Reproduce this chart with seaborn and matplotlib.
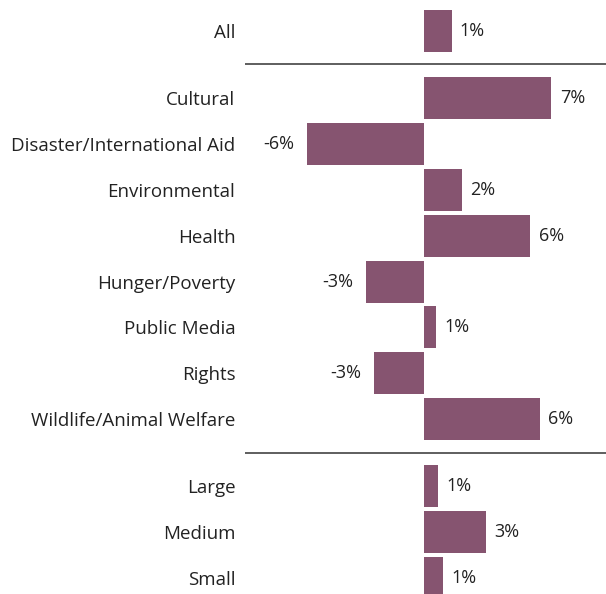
import numpy as np
import pandas as pd
import matplotlib
matplotlib.use("Agg")
import matplotlib.pyplot as plt
import seaborn as sns

# Datos
categorias = ["All",
              "Cultural", "Disaster/International Aid", "Environmental", "Health",
              "Hunger/Poverty", "Public Media", "Rights", "Wildlife/Animal Welfare",
              "Large", "Medium", "Small"]
grupos = [0, 1, 1, 1, 1, 1, 1, 1, 1, 2, 2, 2]
cambio = [1.45, 6.7, -6.15, 2.0, 5.6, -3.05, 0.63, -2.65, 6.1, 0.74, 3.26, 1.0]

sns.set_style("white")
plt.rcParams["font.family"] = ["Open Sans", "DejaVu Sans"]

# posiciones con hueco entre grupos
hueco = 0.46
pos = np.arange(len(categorias)) + np.array(grupos) * hueco
df = pd.DataFrame({"cat": categorias, "pos": pos, "val": cambio})

fig = plt.figure(figsize=(6.06, 5.94), dpi=100)
ax = fig.add_axes([245 / 606, 0, 361 / 606, 1])

sns.barplot(data=df, x="val", y="pos", orient="h", native_scale=True,
            color="#865470", saturation=1, width=0.915, linewidth=0, ax=ax)

ax.set_xlim((245 - 424) / 19, (606 - 424) / 19)
ax.set_ylim(12.27, -0.675)
ax.set_yticks(pos, categorias)
ax.set_xticks([])
ax.set_xlabel("")
ax.set_ylabel("")
ax.tick_params(axis="y", length=0, pad=7, labelsize=13.5, labelcolor="#222222")
sns.despine(ax=ax, left=True, bottom=True)

# etiquetas de valores
for p, v in zip(pos, cambio):
    txt = f"{round(v):.0f}%"
    if v >= 0:
        ax.annotate(txt, (v, p), xytext=(6, 0), textcoords="offset points",
                    ha="left", va="center", fontsize=13, color="#222222")
    else:
        ax.annotate(txt, (v, p), xytext=(-9, 0), textcoords="offset points",
                    ha="right", va="center", fontsize=13, color="#222222")

# separadores entre grupos
for g in (1, 2):
    y = (pos[np.array(grupos) == g].min() + pos[np.array(grupos) == g - 1].max()) / 2
    ax.axhline(y, color="#333333", lw=1.1)

fig.savefig("out.png", dpi=100)
